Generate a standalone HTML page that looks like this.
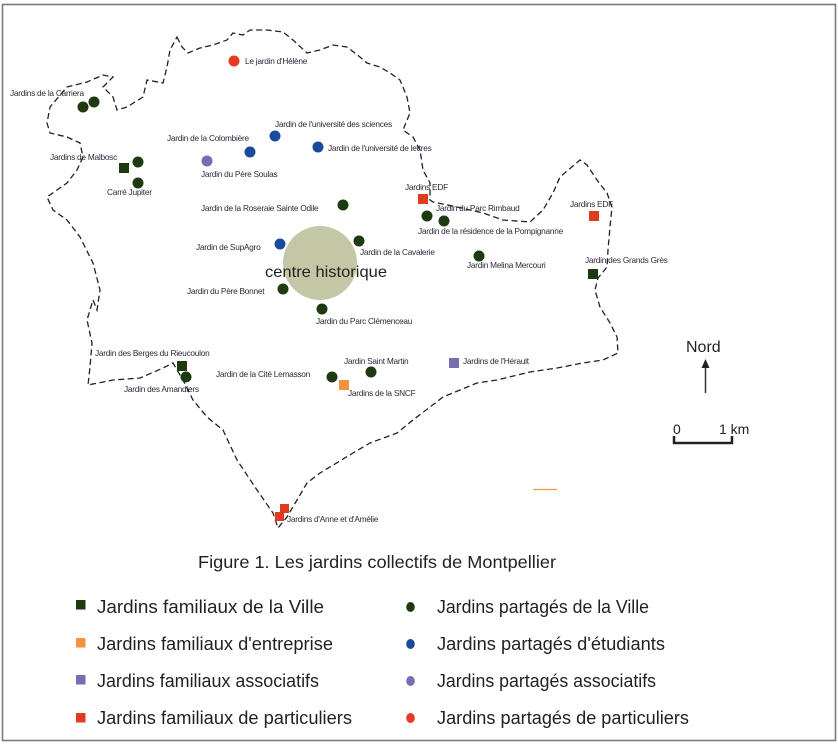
<!DOCTYPE html>
<html><head><meta charset="utf-8"><style>
html,body{margin:0;padding:0;background:#fff;}
svg{display:block;}
text{font-family:"Liberation Sans",sans-serif;}
.l{font-size:8.3px;fill:#2a2a3a;letter-spacing:-0.25px;}
.g{font-size:18px;fill:#231f20;}
</style></head><body>
<svg width="838" height="745" viewBox="0 0 838 745" xmlns="http://www.w3.org/2000/svg">
<rect x="2.5" y="4.5" width="833" height="736" fill="#fff" stroke="#7a7a7a" stroke-width="1.6"/>
<path d="M177,37 L182,47 188,53 200,48 213,45 227,40 233,33 243,35 250,30 267,30 283,32 293,40 307,53 320,50 333,45 347,47 360,57 367,63 380,67 390,73 400,80 407,97 410,113 403,130 413,137 420,150 423,170 430,183 430,200 433,202 457,207 483,213 503,220 530,222 543,210 553,193 560,177 580,160 587,165 597,180 607,193 612,207 610,227 608,250 607,267 598,278 595,290 600,307 610,323 617,337 618,353 603,360 583,363 557,368 530,372 497,380 477,383 460,390 443,397 430,407 413,420 397,433 370,443 353,453 320,473 307,483 297,500 287,517 278,528 273,513 257,490 237,460 223,430 207,417 193,400 183,380 173,363 163,368 140,378 113,380 88,385 90,367 92,343 87,320 93,300 97,310 100,290 93,263 80,237 67,220 53,210 47,197 57,190 67,183 77,170 83,157 80,143 67,137 50,133 47,123 50,107 67,87 87,82 103,75 113,77 103,87 113,97 117,110 127,107 143,97 147,80 163,83 167,67 170,50 Z" fill="none" stroke="#222" stroke-width="1.3" stroke-dasharray="6,3.5"/>
<circle cx="320" cy="263" r="37" fill="#c3c7a6"/>
<text x="265" y="277" font-size="16" fill="#231f20" textLength="122" lengthAdjust="spacingAndGlyphs">centre historique</text>
<g fill="#1e3a10">
<circle cx="83" cy="107" r="5.5"/><circle cx="94" cy="102" r="5.5"/>
<rect x="119" y="163" width="10" height="10"/><circle cx="138" cy="162" r="5.5"/><circle cx="138" cy="183" r="5.5"/>
<circle cx="343" cy="205" r="5.5"/><circle cx="359" cy="241" r="5.5"/><circle cx="283" cy="289" r="5.5"/><circle cx="322" cy="309" r="5.5"/>
<circle cx="427" cy="216" r="5.5"/><circle cx="444" cy="221" r="5.5"/><circle cx="479" cy="256" r="5.5"/>
<rect x="588" y="269" width="10" height="10"/>
<rect x="177" y="361" width="10" height="10"/><circle cx="186" cy="377" r="5.5"/>
<circle cx="332" cy="377" r="5.5"/><circle cx="371" cy="372" r="5.5"/>
</g>
<g fill="#1a4a9c"><circle cx="250" cy="152" r="5.5"/><circle cx="275" cy="136" r="5.5"/><circle cx="318" cy="147" r="5.5"/><circle cx="280" cy="244" r="5.5"/></g>
<circle cx="207" cy="161" r="5.5" fill="#7b6bb0"/>
<rect x="449" y="358" width="10" height="10" fill="#7b6bb0"/>
<circle cx="234" cy="61" r="5.5" fill="#e63a25"/>
<g fill="#e03a20"><rect x="418" y="194" width="10" height="10"/><rect x="589" y="211" width="10" height="10"/><rect x="280" y="504" width="9" height="9"/><rect x="275" y="512" width="9" height="9"/></g>
<rect x="339" y="380" width="10" height="10" fill="#f7923f"/>
<line x1="533" y1="489.5" x2="557" y2="489.5" stroke="#f7923f" stroke-width="1.2"/>
<g class="l">
<text x="10" y="96">Jardins de la Carriera</text>
<text x="50" y="160">Jardins de Malbosc</text>
<text x="107" y="195">Carré Jupiter</text>
<text x="245" y="64">Le jardin d'Hélène</text>
<text x="167" y="141">Jardin de la Colombière</text>
<text x="275" y="127">Jardin de l'université des sciences</text>
<text x="328" y="151">Jardin de l'université de lettres</text>
<text x="201" y="177">Jardin du Père Soulas</text>
<text x="201" y="211">Jardin de la Roseraie Sainte Odile</text>
<text x="196" y="250">Jardin de SupAgro</text>
<text x="360" y="255">Jardin de la Cavalerie</text>
<text x="187" y="294">Jardin du Père Bonnet</text>
<text x="316" y="324">Jardin du Parc Clémenceau</text>
<text x="405" y="190">Jardins EDF</text>
<text x="436" y="211">Jardin du Parc Rimbaud</text>
<text x="418" y="234">Jardin de la résidence de la Pompignanne</text>
<text x="467" y="268">Jardin Melina Mercouri</text>
<text x="570" y="207">Jardins EDF</text>
<text x="585" y="263">Jardin des Grands Grès</text>
<text x="95" y="356">Jardin des Berges du Rieucoulon</text>
<text x="124" y="392">Jardin des Amandiers</text>
<text x="216" y="377">Jardin de la Cité Lemasson</text>
<text x="344" y="364">Jardin Saint Martin</text>
<text x="348" y="396">Jardins de la SNCF</text>
<text x="463" y="364">Jardins de l'Hérault</text>
<text x="287" y="522">Jardins d'Anne et d'Amélie</text>
</g>
<text x="686" y="352" font-size="16" fill="#231f20">Nord</text>
<line x1="705.5" y1="366" x2="705.5" y2="393" stroke="#333" stroke-width="1.5"/>
<polygon points="705.5,359 701.5,368 709.5,368" fill="#222"/>
<text x="673" y="434" font-size="14" fill="#231f20">0</text>
<text x="719" y="434" font-size="14" fill="#231f20">1 km</text>
<path d="M674,436 V443 H732 V436" fill="none" stroke="#222" stroke-width="2.5"/>
<text x="198" y="568" font-size="17.5" fill="#231f20" textLength="358" lengthAdjust="spacingAndGlyphs">Figure 1. Les jardins collectifs de Montpellier</text>
<rect x="76" y="600" width="9.5" height="9.5" fill="#1e3a10"/>
<rect x="76" y="638" width="9.5" height="9.5" fill="#f7923f"/>
<rect x="76" y="675" width="9.5" height="9.5" fill="#7b6bb0"/>
<rect x="76" y="713" width="9.5" height="9.5" fill="#e03a20"/>
<g lengthAdjust="spacingAndGlyphs">
<text class="g" x="97" y="613" textLength="227" lengthAdjust="spacingAndGlyphs">Jardins familiaux de la Ville</text>
<text class="g" x="97" y="650" textLength="236" lengthAdjust="spacingAndGlyphs">Jardins familiaux d'entreprise</text>
<text class="g" x="97" y="687" textLength="222" lengthAdjust="spacingAndGlyphs">Jardins familiaux associatifs</text>
<text class="g" x="97" y="724" textLength="255" lengthAdjust="spacingAndGlyphs">Jardins familiaux de particuliers</text>
</g>
<ellipse cx="410.5" cy="607" rx="4.3" ry="5" fill="#1e3a10"/>
<ellipse cx="410.5" cy="644" rx="4.3" ry="5" fill="#1a4a9c"/>
<ellipse cx="410.5" cy="681" rx="4.3" ry="5" fill="#7b6bb0"/>
<ellipse cx="410.5" cy="718" rx="4.3" ry="5" fill="#e63a25"/>
<text class="g" x="437" y="613" textLength="212" lengthAdjust="spacingAndGlyphs">Jardins partagés de la Ville</text>
<text class="g" x="437" y="650" textLength="228" lengthAdjust="spacingAndGlyphs">Jardins partagés d'étudiants</text>
<text class="g" x="437" y="687" textLength="219" lengthAdjust="spacingAndGlyphs">Jardins partagés associatifs</text>
<text class="g" x="437" y="724" textLength="252" lengthAdjust="spacingAndGlyphs">Jardins partagés de particuliers</text>
</svg>
</body></html>
